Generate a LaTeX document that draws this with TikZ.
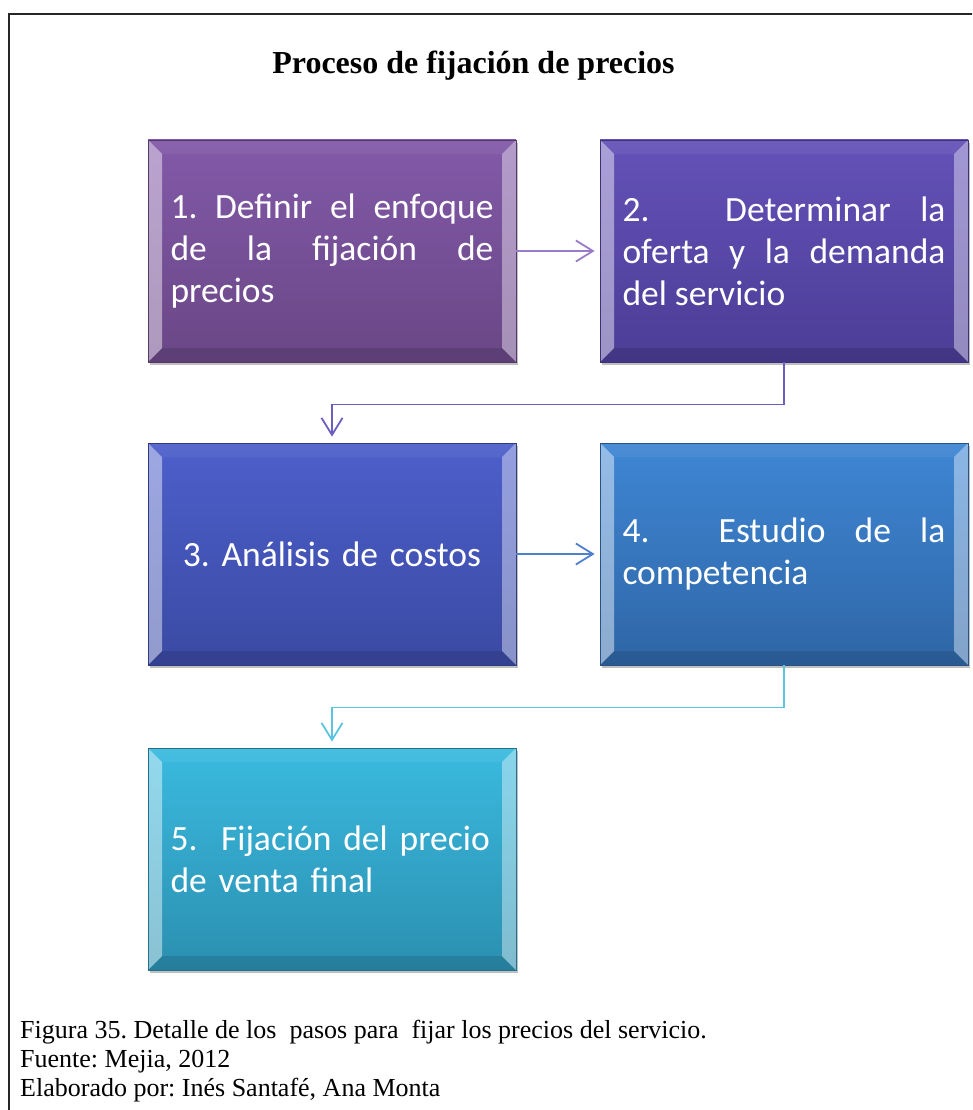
\documentclass[tikz,border=0pt]{standalone}
\usepackage{fontspec}
\setmainfont{Liberation Serif}
\newfontfamily\boxfont{Carlito}
\usetikzlibrary{arrows.meta,calc,shadows}
\definecolor{cAt}{HTML}{8259A8}\definecolor{cAb}{HTML}{6A4786}
\definecolor{cBt}{HTML}{6452B8}\definecolor{cBb}{HTML}{4C3D96}
\definecolor{cCt}{HTML}{4D5FCB}\definecolor{cCb}{HTML}{3A4AA3}
\definecolor{cDt}{HTML}{3E86D4}\definecolor{cDb}{HTML}{2F66A6}
\definecolor{cEt}{HTML}{3ABADF}\definecolor{cEb}{HTML}{2B8FB0}
\definecolor{aA}{HTML}{9A7BC9}\definecolor{aB}{HTML}{6C5EC1}
\definecolor{aC}{HTML}{4F80CF}\definecolor{aD}{HTML}{5CC4E0}
\hyphenpenalty=10000\relax
\exhyphenpenalty=10000\relax
\newcommand\bevelfaces{%
  \path (path picture bounding box.north west) coordinate (pNW)
        (path picture bounding box.north east) coordinate (pNE)
        (path picture bounding box.south west) coordinate (pSW)
        (path picture bounding box.south east) coordinate (pSE);
  \path ([shift={(14pt,-14pt)}]pNW) coordinate (qNW)
        ([shift={(-14pt,-14pt)}]pNE) coordinate (qNE)
        ([shift={(14pt,14pt)}]pSW) coordinate (qSW)
        ([shift={(-14pt,14pt)}]pSE) coordinate (qSE);
  \fill[white,opacity=.06] (pNW)--(pNE)--(qNE)--(qNW)--cycle;
  \fill[black,opacity=.12] (pSW)--(pSE)--(qSE)--(qSW)--cycle;
  \fill[white,opacity=.45] (pNW)--(qNW)--(qSW)--(pSW)--cycle;
  \fill[white,opacity=.40] (pNE)--(qNE)--(qSE)--(pSE)--cycle;
}
\tikzset{
  stepbox/.style 2 args={draw=#2!80!black, line width=0.8pt,
    top color=#1, bottom color=#2,
    minimum width=368pt, minimum height=222pt,
    inner xsep=22.5pt, inner ysep=0pt, text width=323pt,
    align=justify, text=white,
    font=\boxfont\fontsize{35.5}{42}\selectfont,
    drop shadow={shadow xshift=1.5pt, shadow yshift=-3pt, opacity=.25, fill=black},
    path picture={\bevelfaces}},
  conn/.style={line width=1.8pt, draw=#1,
    -{Straight Barb[length=17pt,width=21pt]}},
  caption/.style={anchor=base west, inner sep=0pt,
    font=\fontsize{26}{29}\selectfont},
}
\begin{document}
\frenchspacing
\begin{tikzpicture}[x=1pt,y=-1pt]
\useasboundingbox (0,0) rectangle (972,1110);
\clip (0,0) rectangle (972,1110);
\fill[white] (0,0) rectangle (972,1110);
\draw[line width=2pt, black!85] (9,14) rectangle (1000,1140);

\node[font=\bfseries\fontsize{32}{38}\selectfont] (title) at (473.5,66)
  {Proceso de fijación de precios};

\node[stepbox={cAt}{cAb}] (b1) at (332,251)
  {1. Definir el enfoque\linebreak de la fijación de\linebreak precios};
\node[stepbox={cBt}{cBb}] (b2) at (784,251)
  {2.\hspace{46pt} Determinar la\linebreak oferta y la demanda\linebreak del servicio};
\node[stepbox={cCt}{cCb}, align=center] (b3) at (332,554)
  {3. Análisis de costos};
\node[stepbox={cDt}{cDb}] (b4) at (784,554)
  {4.\hspace{40pt} Estudio de la\linebreak competencia};
\node[stepbox={cEt}{cEb}, align=left] (b5) at (332,859)
  {5.\ \ Fijación del precio\\de venta final};

\coordinate (t2) at ($(b3.north)+(0,-6)$);
\coordinate (t4) at ($(b5.north)+(0,-6)$);
\draw[conn=aA] (b1.east) -- ([xshift=-5pt]b2.west);
\draw[conn=aB] (b2.south) -- ++(0,42) -| (t2);
\draw[conn=aC] (b3.east) -- ([xshift=-5pt]b4.west);
\draw[conn=aD] (b4.south) -- ++(0,42) -| (t4);

\node[caption] (c1) at (20,1038)
  {Figura 35. Detalle de los\ \ pasos para\ \ fijar los precios del servicio.};
\node[caption] (c2) at (20,1067) {Fuente: Mejia, 2012};
\node[caption] (c3) at (20,1096) {Elaborado por: Inés Santafé, Ana Monta};
\end{tikzpicture}
\end{document}
